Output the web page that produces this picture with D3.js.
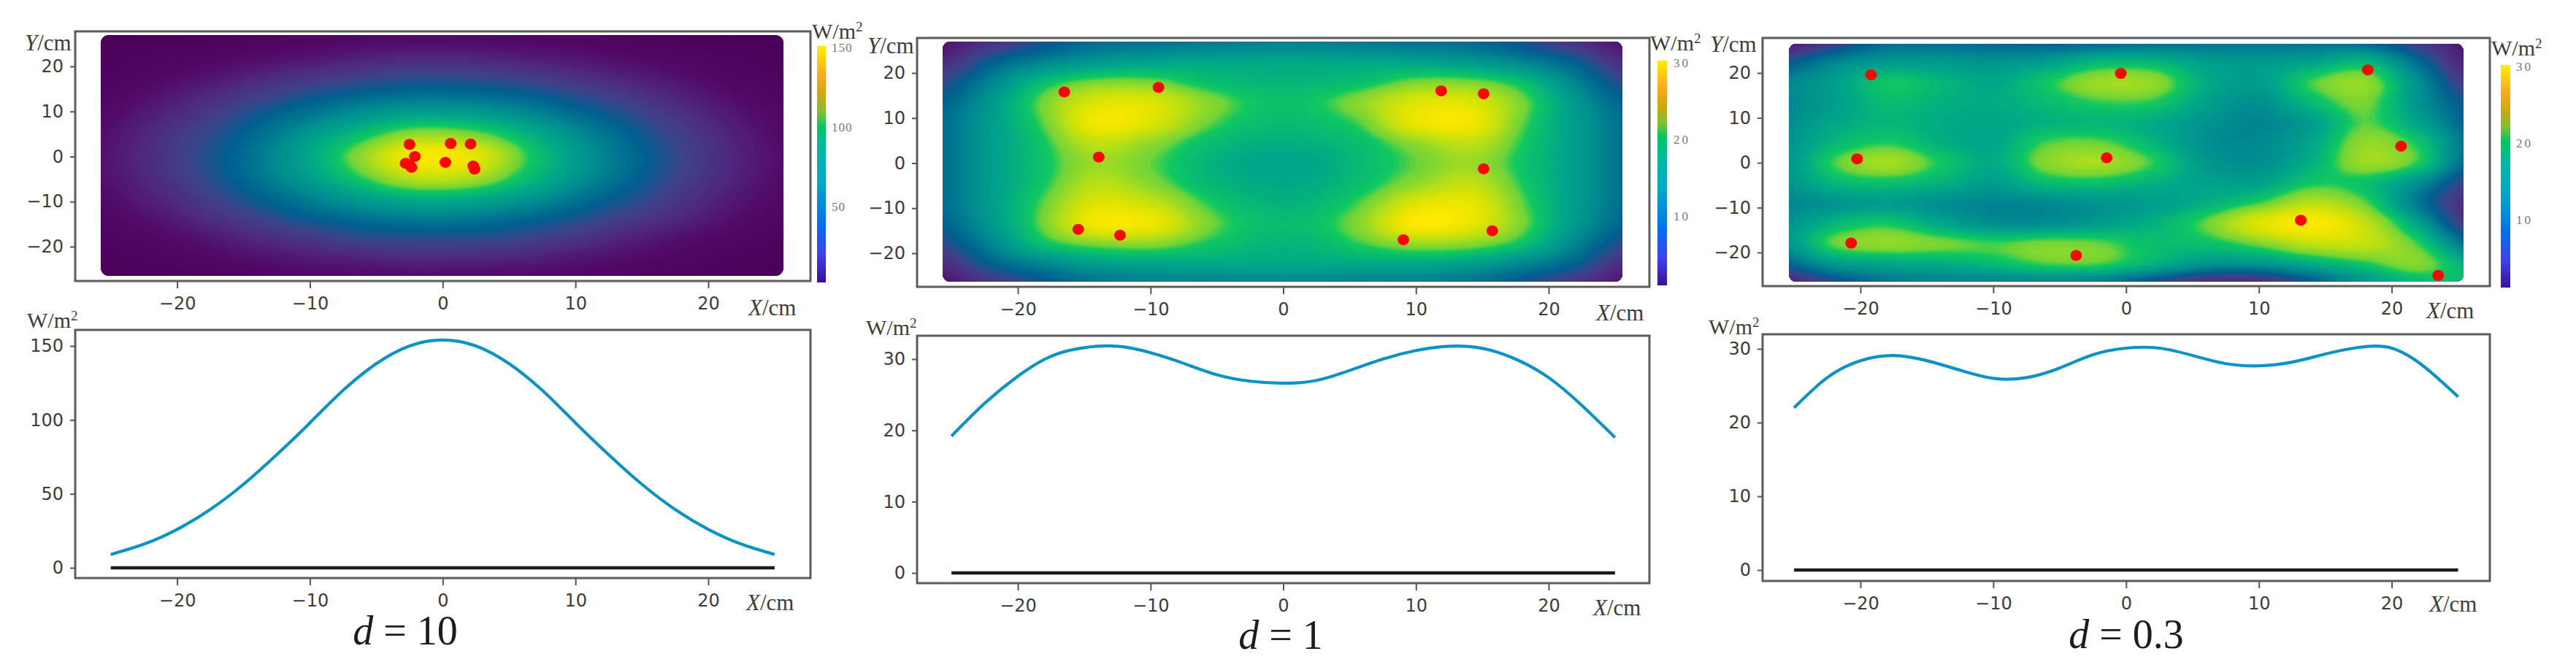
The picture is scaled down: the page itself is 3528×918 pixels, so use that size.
<!DOCTYPE html>
<html>
<head>
<meta charset="utf-8">
<script src="https://cdn.jsdelivr.net/npm/d3@7"></script>
<style>
  html, body { margin: 0; padding: 0; background: #fff; }
  svg { display: block; }
  .tick text { font-family: "DejaVu Sans", sans-serif; font-size: 24px; fill: #3c3c3c; }
  .serif { font-family: "Liberation Serif", serif; fill: #3c3c3c; }
</style>
</head>
<body>
<svg id="chart" width="3528" height="918"></svg>
<script>
// Grid the heat maps were read on (cm)
const gridX = [-26, -22, -18, -14, -10, -6, -2, 2, 6, 10, 14, 18, 22, 26];
const gridY = [27, 22.5, 18, 13.5, 9, 4.5, 0, -4.5, -9, -13.5, -18, -22.5, -27];

// W/m2, one row per gridY
const heatD10 = [
  [1, 3, 4, 6, 8, 10, 10, 10, 9, 8, 6, 4, 2, 1],
  [3, 6, 8, 12, 16, 20, 23, 22, 19, 16, 11, 8, 5, 3],
  [5, 9, 15, 23, 30, 36, 40, 39, 35, 28, 21, 14, 8, 5],
  [8, 15, 25, 35, 46, 54, 58, 57, 52, 43, 33, 22, 13, 7],
  [11, 21, 33, 48, 61, 74, 83, 81, 71, 57, 44, 30, 18, 10],
  [14, 26, 40, 56, 76, 97, 116, 112, 92, 70, 52, 36, 22, 12],
  [15, 28, 43, 60, 83, 113, 147, 141, 104, 77, 56, 39, 24, 13],
  [15, 26, 41, 58, 78, 102, 125, 121, 96, 73, 54, 37, 23, 12],
  [12, 22, 35, 50, 64, 79, 89, 87, 76, 60, 46, 32, 19, 10],
  [9, 16, 27, 38, 50, 58, 63, 62, 55, 46, 35, 25, 14, 8],
  [6, 10, 17, 26, 33, 41, 43, 43, 39, 32, 23, 15, 9, 5],
  [4, 6, 10, 15, 20, 23, 26, 25, 23, 18, 13, 9, 5, 3],
  [1, 3, 5, 7, 10, 11, 13, 12, 11, 9, 7, 5, 3, 1]
];
const heatD1 = [
  [3, 6, 9, 11, 11.5, 12, 12.5, 12.5, 12, 11.5, 11, 9, 6, 3],
  [5, 10, 13, 15, 16, 16.5, 16.5, 16.5, 16.5, 16, 15, 13, 10, 5],
  [8, 13, 18.8, 21.5, 21.5, 19, 18, 18, 19, 21.5, 21.5, 18.8, 13, 8],
  [10, 15, 21.5, 27, 27, 22.5, 19.5, 19.5, 22.5, 27, 27, 21.5, 15, 10],
  [11, 15.5, 21, 29, 27, 21.5, 18.8, 18.8, 21, 28, 29, 21, 15.5, 11],
  [11, 15.5, 19.8, 25, 22.5, 19, 17.5, 17.5, 19, 22.5, 25, 20, 15.5, 11],
  [11, 15.5, 19.4, 23, 21, 18, 16.5, 16.5, 18.5, 21, 23, 19.4, 15.5, 11],
  [11, 15.5, 19.8, 24.5, 22, 18.5, 17, 17, 19, 22.5, 25, 20, 15.5, 11],
  [11, 15.5, 21, 27, 25.5, 20.5, 18, 18, 21, 27, 28, 21, 15.5, 11],
  [10, 15, 21.5, 29, 28.5, 22, 19, 19, 22.5, 30, 28, 21.5, 15, 10],
  [8, 13, 19, 21.5, 22, 19.8, 18, 18, 20.3, 22.5, 22, 19, 13, 8],
  [5, 10, 13, 15.5, 16, 16.5, 16.5, 16.5, 16.5, 16.5, 15.5, 13, 10, 5],
  [3, 6, 9, 11, 12, 12, 12.5, 12.5, 12, 12, 11, 9, 6, 3]
];
const heatD03 = [
  [3, 7, 11, 11, 10.5, 10, 10.5, 11, 11.5, 11.5, 11.5, 10.5, 7, 3],
  [9, 13, 15, 15, 14.5, 15.5, 18, 18, 15.5, 15, 16, 18, 11, 4],
  [13, 15.5, 19.5, 18, 16.5, 19.5, 23, 22.5, 17, 15.5, 20.5, 22.5, 14, 6],
  [13, 15.5, 18.5, 17.5, 17, 18.5, 20.3, 20, 16, 14, 18.5, 21.5, 14.5, 9],
  [13.5, 16.5, 18, 17, 16.5, 17.5, 18, 17, 14.5, 13, 15.5, 20.8, 16, 10],
  [14, 18, 20, 17.5, 16.5, 20.5, 21, 18, 14, 13.5, 16.5, 22.5, 19.5, 11],
  [14, 20.5, 23.5, 19.8, 17, 22, 23.5, 20.3, 15, 14, 17.5, 23, 20, 10],
  [14, 18, 19, 17.5, 15.5, 18.5, 19, 17.5, 16, 16, 19.7, 19, 14, 7],
  [13, 14.5, 15.5, 14, 13, 13.5, 14.5, 15.5, 17.5, 20.5, 24.5, 21, 12, 5],
  [14, 18, 19.7, 16.5, 14, 14, 15.5, 17.5, 21, 27, 30, 25, 16, 6],
  [14, 21, 22.5, 21.5, 20.5, 21.5, 21, 18.8, 19, 21.5, 25, 25, 20.3, 11],
  [10, 15, 16.5, 17, 18.5, 20.5, 20.5, 17.5, 14.5, 14.5, 17, 19.8, 22, 17],
  [4, 8, 11, 12, 12, 12, 11, 8, 5, 5, 9, 14, 18, 19]
];

// Red markers (x, y in cm)
const pointsD10 = [[-2.5, 2.7], [0.6, 2.9], [2.1, 2.8], [-2.1, 0], [-2.8, -1.5], [-2.5, -1.9], [-2.35, -2.4], [0.2, -1.3], [2.3, -2.1], [2.4, -2.8]];
const pointsD1 = [[-16.5, 15.8], [-9.4, 16.8], [11.9, 16.05], [15.1, 15.4], [-13.9, 1.35], [15.1, -1.25], [-15.45, -14.7], [-12.3, -16], [9.05, -17], [15.75, -15]];
const pointsD03 = [[-19.2, 19.6], [-0.4, 19.9], [18.2, 20.7], [-20.25, 0.87], [-1.46, 1.09], [20.7, 3.7], [13.15, -12.8], [-20.7, -17.9], [-3.76, -20.65], [23.5, -25.1]];

// Profile along y = 0
const lineX = [-25, -22.5, -20, -17.5, -15, -12.5, -10, -7.5, -5, -2.5, 0, 2.5, 5, 7.5, 10, 12.5, 15, 17.5, 20, 22.5, 25];
const lineD10 = [9, 16, 26, 39.5, 56.5, 76.5, 98, 120, 138, 150, 154, 150, 138, 120, 98, 76.5, 56.5, 39.5, 26, 16, 9];
const lineD1 = [19.2, 23.8, 27.6, 30.4, 31.6, 31.8, 30.9, 29.4, 27.8, 26.9, 26.6, 27, 28.4, 30, 31.2, 31.8, 31.5, 30, 27.4, 23.5, 19];
const lineD03 = [22, 26.1, 28.4, 29.1, 28.4, 27.1, 26, 26.1, 27.4, 29.2, 30.1, 30.1, 29.1, 28, 27.7, 28.2, 29.3, 30.2, 30.1, 27.5, 23.5];

const axisTicks = [-20, -10, 0, 10, 20];
const heatMaxes = [150, 30, 30];
const colorbarTicks = [[50, 100, 150], [10, 20, 30], [10, 20, 30]];
const lineTicks = [[0, 50, 100, 150], [0, 10, 20, 30], [0, 10, 20, 30]];
const captions = ["10", "1", "0.3"];

// Colours of the field and of its bar, from low to high
const heatStops = [[0, "#4a0058"], [0.08, "#520a68"], [0.17, "#4f2a80"], [0.25, "#3d4288"], [0.33, "#005f90"], [0.45, "#008c90"], [0.55, "#00a888"], [0.66, "#10c860"], [0.7, "#70d438"], [0.8, "#b4df18"], [0.9, "#e0e400"], [1, "#ffe800"]];
const barStops = [[0, "#3a0f9a"], [0.12, "#4040f0"], [0.25, "#0070f0"], [0.42, "#00a8c8"], [0.55, "#00b8a8"], [0.66, "#00c860"], [0.72, "#80c030"], [0.8, "#d0a810"], [0.88, "#ffa820"], [1, "#fff000"]];

// Pixel layout of the three columns
const layout = [
  {
    left: 103, right: 1110, xm20: 242.6, xp20: 970,
    heat: { top: 43, bottom: 385, ym20: 338, yp20: 91, x0: 138, x1: 1073, y0: 48, y1: 378 },
    bar: { x: 1119, w: 12, top: 63, bottom: 387, t0: 283, t1: 65, label: 1139 },
    line: { top: 452, bottom: 792, v0: 778, vTop: 474 },
    yLabel: [34, 58], xLabel: [1025, 421], wBar: [1112, 42], wLine: [37, 438], xLabel2: [1022, 825],
    caption: [555, 883]
  },
  {
    left: 1256, right: 2259, xm20: 1394, xp20: 2121,
    heat: { top: 52, bottom: 393, ym20: 347, yp20: 100, x0: 1291, x1: 2222, y0: 57, y1: 386 },
    bar: { x: 2270, w: 13, top: 83, bottom: 391, t0: 296, t1: 86, label: 2292 },
    line: { top: 460, bottom: 799, v0: 785, vTop: 492 },
    yLabel: [1188, 62], xLabel: [2186, 428], wBar: [2260, 58], wLine: [1186, 448], xLabel2: [2182, 832],
    caption: [1754, 889]
  },
  {
    left: 2414, right: 3410, xm20: 2548, xp20: 3275.6,
    heat: { top: 52, bottom: 392, ym20: 346, yp20: 100, x0: 2450, x1: 3374, y0: 60, y1: 386 },
    bar: { x: 3425, w: 13, top: 89, bottom: 394, t0: 301, t1: 91, label: 3446 },
    line: { top: 458, bottom: 796, v0: 781, vTop: 478 },
    yLabel: [2342, 60], xLabel: [3323, 425], wBar: [3412, 65], wLine: [2340, 447], xLabel2: [3327, 827],
    caption: [2912, 888]
  }
];

const heats = [heatD10, heatD1, heatD03];
const points = [pointsD10, pointsD1, pointsD03];
const lines = [lineD10, lineD1, lineD03];

const svg = d3.select("#chart");
const defs = svg.append("defs");

const heatColor = d3.scaleLinear()
  .domain(heatStops.map(d => d[0]))
  .range(heatStops.map(d => d[1]))
  .clamp(true);

defs.append("linearGradient")
  .attr("id", "bar-gradient")
  .attr("x1", 0).attr("y1", 1).attr("x2", 0).attr("y2", 0)
  .selectAll("stop")
  .data(barStops)
  .join("stop")
  .attr("offset", d => d[0])
  .attr("stop-color", d => d[1]);

layout.forEach((l, i) => {
  drawHeat(l, i);
  drawLine(l, i);
  drawCaption(l, i);
});

function drawHeat(l, i) {
  const h = l.heat;
  const x = d3.scaleLinear().domain([-20, 20]).range([l.xm20, l.xp20]);
  const y = d3.scaleLinear().domain([-20, 20]).range([h.ym20, h.yp20]);
  const g = svg.append("g");
  const max = heatMaxes[i];

  defs.append("clipPath")
    .attr("id", `field-${i}`)
    .append("rect")
    .attr("x", h.x0).attr("y", h.y0)
    .attr("width", h.x1 - h.x0).attr("height", h.y1 - h.y0)
    .attr("rx", 11);

  const field = g.append("g").attr("clip-path", `url(#field-${i})`);
  field.append("rect")
    .attr("x", h.x0).attr("y", h.y0)
    .attr("width", h.x1 - h.x0).attr("height", h.y1 - h.y0)
    .attr("fill", heatColor(0));

  // Smooth the coarse table, then let d3.contours shade it
  const k = 16;
  const fine = resample(heats[i], k);
  const nx = (gridX.length - 1) * k + 1;
  const ny = (gridY.length - 1) * k + 1;
  const cols = d3.scaleLinear().domain([0.5, nx - 0.5]).range([gridX[0], gridX[gridX.length - 1]]);
  const rows = d3.scaleLinear().domain([0.5, ny - 0.5]).range([gridY[0], gridY[gridY.length - 1]]);
  const path = d3.geoPath(d3.geoTransform({
    point(px, py) {
      this.stream.point(x(cols(px)), y(rows(py)));
    }
  }));
  const contours = d3.contours().size([nx, ny]).thresholds(d3.range(1, 120).map(t => t * max / 120));
  field.selectAll("path")
    .data(contours(fine))
    .join("path")
    .attr("d", path)
    .attr("fill", d => heatColor(d.value / max));

  field.selectAll("ellipse")
    .data(points[i])
    .join("ellipse")
    .attr("cx", d => x(d[0]))
    .attr("cy", d => y(d[1]))
    .attr("rx", 8)
    .attr("ry", 7.5)
    .attr("fill", "#fe0505");

  frame(g, l.left, l.right, h.top, h.bottom);
  axes(g, x, y, h.bottom, l.left, axisTicks, axisTicks);

  // Colour bar
  const b = l.bar;
  g.append("rect")
    .attr("x", b.x).attr("y", b.top)
    .attr("width", b.w).attr("height", b.bottom - b.top)
    .attr("fill", "url(#bar-gradient)");
  const ticks = colorbarTicks[i];
  const barY = d3.scaleLinear().domain([ticks[0], ticks[2]]).range([b.t0, b.t1]);
  g.selectAll(".bar-label")
    .data(ticks)
    .join("text")
    .attr("class", "bar-label serif")
    .attr("x", b.label)
    .attr("y", d => barY(d))
    .attr("dy", "0.35em")
    .attr("font-size", 17)
    .attr("letter-spacing", i === 0 ? 1 : 3)
    .style("fill", "#777")
    .text(d => d);

  axisName(g, "Y", l.yLabel);
  axisName(g, "X", l.xLabel);
  unitName(g, l.wBar);
}

function drawLine(l, i) {
  const h = l.line;
  const ticks = lineTicks[i];
  const x = d3.scaleLinear().domain([-20, 20]).range([l.xm20, l.xp20]);
  const y = d3.scaleLinear().domain([0, ticks[ticks.length - 1]]).range([h.v0, h.vTop]);
  const g = svg.append("g");

  g.append("line")
    .attr("x1", x(-25)).attr("x2", x(25))
    .attr("y1", y(0)).attr("y2", y(0))
    .attr("stroke", "#1c1c1c")
    .attr("stroke-width", 4.5);

  const curve = d3.line()
    .x((d, j) => x(lineX[j]))
    .y(d => y(d))
    .curve(d3.curveNatural);
  g.append("path")
    .attr("d", curve(lines[i]))
    .attr("fill", "none")
    .attr("stroke", "#0a93c6")
    .attr("stroke-width", 4.2);

  frame(g, l.left, l.right, h.top, h.bottom);
  axes(g, x, y, h.bottom, l.left, axisTicks, ticks);
  axisName(g, "X", l.xLabel2);
  unitName(g, l.wLine);
}

function drawCaption(l, i) {
  const text = svg.append("text")
    .attr("class", "serif")
    .attr("x", l.caption[0])
    .attr("y", l.caption[1])
    .attr("text-anchor", "middle")
    .attr("font-size", 56)
    .style("fill", "#1c1c1c");
  text.append("tspan").attr("font-style", "italic").text("d");
  text.append("tspan").text(` = ${captions[i]}`);
}

function frame(g, left, right, top, bottom) {
  g.append("rect")
    .attr("x", left).attr("y", top)
    .attr("width", right - left).attr("height", bottom - top)
    .attr("fill", "none")
    .attr("stroke", "#5c5c5c")
    .attr("stroke-width", 3);
}

function axes(g, x, y, bottom, left, xTicks, yTicks) {
  const ax = g.append("g")
    .attr("transform", `translate(0,${bottom})`)
    .call(d3.axisBottom(x).tickValues(xTicks).tickSize(10).tickPadding(12).tickFormat(d => String(d).replace("-", "\u2212")));
  const ay = g.append("g")
    .attr("transform", `translate(${left},0)`)
    .call(d3.axisLeft(y).tickValues(yTicks).tickSize(7).tickPadding(9).tickFormat(d => String(d).replace("-", "\u2212")));
  [ax, ay].forEach(a => {
    a.select(".domain").remove();
    a.selectAll("line").attr("stroke", "#555").attr("stroke-width", 2);
  });
}

function axisName(g, name, pos) {
  const text = g.append("text")
    .attr("class", "serif")
    .attr("x", pos[0]).attr("y", pos[1])
    .attr("dy", "0.35em")
    .attr("font-size", 31);
  text.append("tspan").attr("font-style", "italic").text(name);
  text.append("tspan").text("/cm");
}

function unitName(g, pos) {
  const text = g.append("text")
    .attr("class", "serif")
    .attr("x", pos[0]).attr("y", pos[1])
    .attr("dy", "0.35em")
    .attr("font-size", 30)
    .text("W/m");
  text.append("tspan").attr("dy", -10).attr("font-size", 19).text("2");
}

// Catmull-Rom resample of a row table onto a finer flat array
function resample(table, k) {
  const ny = table.length;
  const nx = table[0].length;
  const at = (r, c) => table[Math.max(0, Math.min(ny - 1, r))][Math.max(0, Math.min(nx - 1, c))];
  const cubic = (a, b, c, d, t) => b + 0.5 * t * (c - a + t * (2 * a - 5 * b + 4 * c - d + t * (3 * (b - c) + d - a)));
  const w = (nx - 1) * k + 1;
  const h = (ny - 1) * k + 1;
  const out = new Array(w * h);
  for (let j = 0; j < h; j++) {
    const r = Math.floor(j / k);
    const tr = j / k - r;
    for (let i = 0; i < w; i++) {
      const c = Math.floor(i / k);
      const tc = i / k - c;
      const v = [-1, 0, 1, 2].map(dr =>
        cubic(at(r + dr, c - 1), at(r + dr, c), at(r + dr, c + 1), at(r + dr, c + 2), tc)
      );
      out[j * w + i] = cubic(v[0], v[1], v[2], v[3], tr);
    }
  }
  return out;
}
</script>
</body>
</html>
